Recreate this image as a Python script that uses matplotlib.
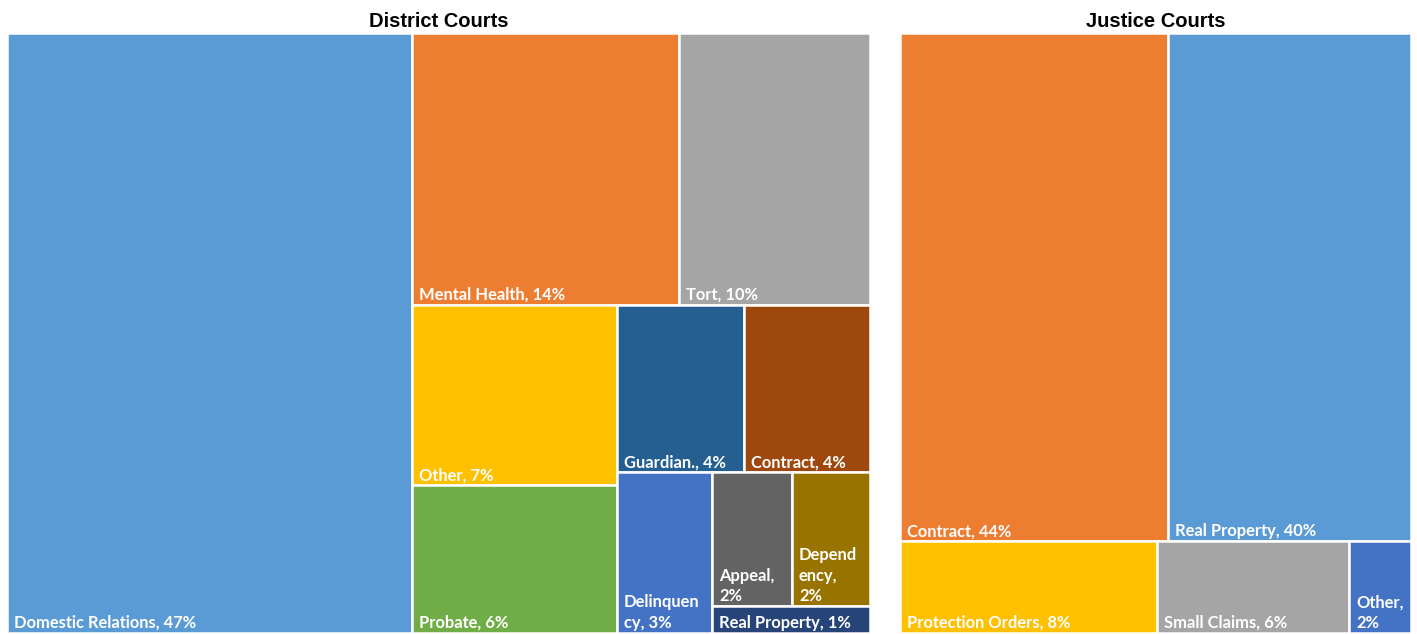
import matplotlib
matplotlib.use('Agg')
import matplotlib.pyplot as plt
from matplotlib.patches import Rectangle
from matplotlib.font_manager import FontProperties

# data (share of filings, %)
district_names = ['Domestic Relations', 'Mental Health', 'Tort', 'Other', 'Probate',
                  'Guardian.', 'Contract', 'Delinquency', 'Appeal', 'Dependency',
                  'Real Property']
district_values = [46.9, 14.03, 10.04, 7.13, 5.86, 4.10, 4.07, 2.96, 2.07, 2.02, 0.82]
district_colors = ['#5B9BD5', '#ED7D31', '#A5A5A5', '#FFC000', '#70AD47', '#255E91',
                   '#9E480E', '#4472C4', '#636363', '#997300', '#264478']

justice_names = ['Contract', 'Real Property', 'Protection Orders', 'Small Claims', 'Other']
justice_values = [44.4, 40.27, 7.71, 5.76, 1.86]
justice_colors = ['#ED7D31', '#5B9BD5', '#FFC000', '#A5A5A5', '#4472C4']

TOL = 1.1  # excel keeps adding to a row a bit longer than plain squarify

label_font = FontProperties(family='Lato', weight='bold', size=11.9)


def worst(row, side):
    s = sum(row)
    thick = s / side
    r = 0
    for a in row:
        l = a / thick
        r = max(r, l / thick, thick / l)
    return r


def squarify(areas, x, y, w, h):
    rects = []
    areas = list(areas)
    while areas:
        side = min(w, h)
        row = [areas[0]]
        i = 1
        while i < len(areas):
            if worst(row + [areas[i]], side) <= worst(row, side) * TOL:
                row.append(areas[i])
                i += 1
            else:
                break
        areas = areas[i:]
        thick = sum(row) / side
        if w >= h:
            yy = y
            for a in row:
                rects.append((x, yy, thick, a / thick))
                yy += a / thick
            x += thick
            w -= thick
        else:
            xx = x
            for a in row:
                rects.append((xx, y, a / thick, thick))
                xx += a / thick
            y += thick
            h -= thick
    return rects


def wrap(text, max_px, renderer):
    def width(s):
        return renderer.get_text_width_height_descent(s, label_font, ismath=False)[0]
    lines = []
    cur = ''
    for word in text.split(' '):
        cand = word if not cur else cur + ' ' + word
        if width(cand) <= max_px:
            cur = cand
            continue
        if cur:
            lines.append(cur)
            cur = ''
        while width(word) > max_px and len(word) > 1:
            k = len(word)
            while k > 1 and width(word[:k]) > max_px:
                k -= 1
            lines.append(word[:k])
            word = word[k:]
        cur = word
    lines.append(cur)
    return '\n'.join(lines)


def treemap(ax, names, values, colors, title):
    fig = ax.figure
    renderer = fig.canvas.get_renderer()
    bb = ax.get_window_extent(renderer)
    W, H = bb.width, bb.height
    total = sum(values)
    areas = [v / total * W * H for v in values]
    rects = squarify(areas, 0, 0, W, H)
    for (x, y, w, h), name, v, c in zip(rects, names, values, colors):
        ax.add_patch(Rectangle((x, y), w, h, facecolor=c, edgecolor='white', lw=1.8))
        txt = wrap(f'{name}, {round(v / total * 100)}%', w - 14, renderer)
        ax.text(x + 7, y + h - 2, txt, color='white', fontproperties=label_font,
                ha='left', va='bottom', linespacing=1.35)
    ax.set_xlim(0, W)
    ax.set_ylim(H, 0)
    ax.axis('off')
    ax.set_title(title, fontsize=14.5, fontweight='bold', family='Liberation Sans', pad=4)


fig = plt.figure(figsize=(14.17, 6.34), dpi=100)
ax1 = fig.add_axes([7 / 1417, 1 / 634, 863 / 1417, 600 / 634])
ax2 = fig.add_axes([900 / 1417, 1 / 634, 511 / 1417, 600 / 634])

treemap(ax1, district_names, district_values, district_colors, 'District Courts')
treemap(ax2, justice_names, justice_values, justice_colors, 'Justice Courts')

fig.savefig('out.png', dpi=100)
